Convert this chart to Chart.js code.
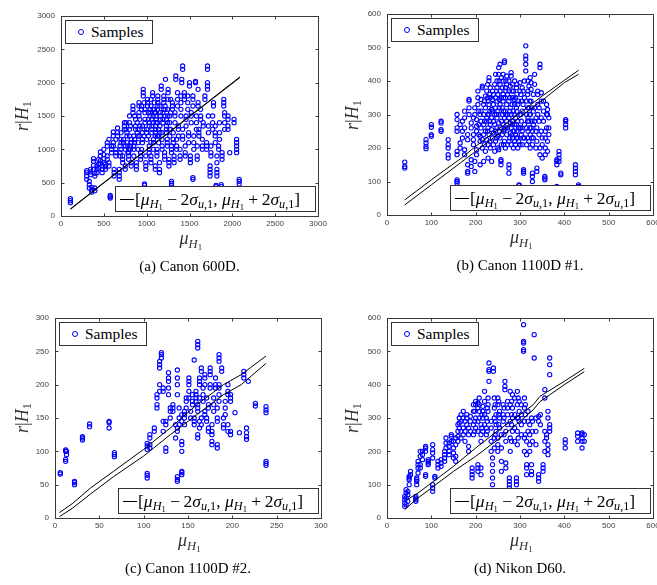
<!DOCTYPE html>
<html><head><meta charset="utf-8">
<script src="https://cdn.jsdelivr.net/npm/chart.js@4.4.1/dist/chart.umd.min.js"></script>
<style>
html,body{margin:0;padding:0;background:#fff;}
body{width:657px;height:585px;overflow:hidden;position:relative;}
canvas.pc{position:absolute;}
.lg{position:absolute;background:#fff;border:1px solid #333;box-sizing:border-box;font-family:"Liberation Serif","Times New Roman",serif;font-size:15.5px;color:#000;white-space:nowrap;display:flex;align-items:center;}
.lg2{font-size:17.5px;}
.mk{display:inline-block;width:4px;height:4px;border:1px solid #0000ff;border-radius:50%;margin:0 7px 0 12px;}
.ls{display:inline-block;width:14px;border-top:1px solid #000;margin:0 1px 0 4px;}
sub{font-size:70%;vertical-align:-0.28em;line-height:0;}
.ax{position:absolute;font-family:"Liberation Serif","Times New Roman",serif;font-size:18px;color:#333;white-space:nowrap;}
.cap{position:absolute;font-family:"Liberation Serif","Times New Roman",serif;font-size:15px;color:#000;white-space:nowrap;transform:translateX(-50%);}
</style>
</head><body>
<canvas id="ca" class="pc" width="340" height="260" style="left:0;top:0"></canvas>
<canvas id="cb" class="pc" width="340" height="260" style="left:330px;top:0"></canvas>
<canvas id="cc" class="pc" width="340" height="260" style="left:0;top:280px"></canvas>
<canvas id="cd" class="pc" width="340" height="260" style="left:330px;top:280px"></canvas>
<script>
// ---------- DATA (columns: [x, y1, y2, ...]) ----------
const captions = ["(a) Canon 600D.", "(b) Canon 1100D #1.", "(c) Canon 1100D #2.", "(d) Nikon D60."];
const axisA = [0, 3000, 500];
const axisB = [0, 600, 100];
const axisC = [0, 300, 50];
const axisD = [0, 600, 100];

const samplesA = [
[110,200,230,260],[300,550,600,650,680],[330,420,470,520],[345,620,660,700],[360,360,390,430],
[380,700,760,820,860],[395,380,420,600,640],[420,650,700,750],[440,720,780,850],[460,780,830,900,960],
[480,650,700,750],[500,800,860,920,1000],[520,700,740,780],[540,850,900,1050,1100],[560,750,800,1150],
[575,270,290,310],[590,950,1000,1050],[610,1050,1100,1200,1260],[620,600,650,700],[640,900,950,1000,1150],
[660,1200,1250,1320],[680,550,600,650,700],[700,1000,1100,1150,1250],[720,800,850,900],[740,1300,1350,1400],
[750,700,750,1000,1050],[770,1100,1200,1250],[790,850,900,950,1000],[800,1200,1300,1400,1500],[820,750,800,1100,1150],
[840,1550,1600,1650],[850,900,1000,1050,1200],[870,1300,1350,1450],[880,700,750,800],[900,1000,1100,1200,1300],
[910,1500,1550,1650,1700],[930,850,900,950],[950,1100,1150,1250,1350],[960,1800,1850,1900],[975,460,480],
[980,1400,1450,1550,1600],[990,700,750,800,900],[1000,1150,1250,1300],[1010,1650,1700,1750],[1030,950,1000,1050,1350,1400],
[1040,1500,1550,1600],[1050,800,850,900],[1060,1250,1300,1350,1450],[1070,1800,1850],[1080,1000,1100,1150],
[1090,1550,1600,1700],[1100,700,750,1200,1250],[1110,1400,1450,1500],[1120,900,950,1000],[1130,1650,1700,1750,1800],
[1140,1100,1200,1300],[1150,650,700,800],[1160,1450,1500,1550],[1170,1900,1950],[1180,1000,1050,1150,1250],
[1200,1600,1700,1750,1800],[1210,850,900,950],[1220,2050],[1230,1250,1300,1350,1450],[1240,1050,1100,1150],
[1250,1750,1850,1900],[1260,750,800,850],[1270,1200,1300,1400,1500],[1290,460,490,520],[1290,950,1000,1050],
[1300,1600,1650,1700],[1310,1100,1150,1250],[1320,800,850,900],[1330,1400,1500,1550],[1340,2050,2100],
[1350,1000,1050,1150],[1360,1650,1750,1850],[1370,1200,1300,1350],[1390,850,900,1000],[1400,1500,1600,1700,1800],
[1410,2000,2050],[1420,2200,2250],[1420,1150,1200,1300],[1440,1750,1800,1850],[1450,900,950,1050],
[1460,1350,1450,1500],[1480,1600,1700,1800],[1490,1100,1200,1250],[1500,1950,2000],[1510,800,850,900],
[1520,1400,1500,1550],[1540,550,575],[1540,1650,1750,1800],[1550,1000,1100,1200],[1570,2000,2020],
[1580,1300,1400,1500],[1590,850,900,1050],[1600,1650,1700,1900],[1610,1200,1250,1300],[1630,1450,1500,1600],
[1650,1000,1050,1150],[1660,1350,1400],[1680,1750,1800],[1700,1000,1050,1100],[1710,1900,1950,2000,2200,2250],
[1720,1250,1350,1500],[1740,600,650,700,750],[1750,900,950,1050],[1770,1300,1400,1500],[1780,1650,1700],
[1800,1100,1200,1250,1350],[1810,440,460],[1820,600,650,700,800,900],[1840,1000,1050],[1850,1150,1250,1400],
[1870,440,470],[1880,850,900,950],[1900,1650,1700,1750],[1910,1300,1400,1500,1550],[1950,1300,1350,1450,1500],
[1970,950],[2020,1400,1450],[2050,950,1000,1050,1100,1150],[2080,480,520,550],
[810,1000,1050,1350],[860,1100,1150,1500],[890,1250,1400],[920,1200,1350,1450],[940,1000,1600,1650],
[970,1200,1300,1700],[1020,1200,1450,1550],[1050,1100,1650,1750],[1075,1400,1500,1600],[1105,1300,1350,1550],
[1125,1200,1400,1600],[1155,1250,1350,1650],[1190,1400,1450,1550],[1215,1500,1600,1650],[1245,1400,1500,1600],
[1280,1300,1550,1750],[690,900,950,1050],[730,1100,1150],[760,1300,1400],[780,950,1050]
];
const upperA = [[110,108],[500,502],[1000,998],[1500,1497],[2090,2088]];
const lowerA = [[110,100],[500,495],[1000,990],[1500,1490],[2090,2078]];

const samplesB = [
[40,140,145,158],[88,198,205,215,225],[100,235,240,262,270],[122,250,255,275,280],[138,170,180,200,210,225],
[158,95,100,105],[158,180,190,250,260,285,300],[165,200,215,270],[170,230,250,280],[175,180,195,260,290,310],
[182,125,130,150,225,240],[185,300,320,340,345],[190,145,165,260,275],[195,210,225,240,290],[198,130,160,300,320],
[202,180,195,250,265,285],[205,330,350,370],[210,150,220,235,300],[212,260,280,310,345],[215,200,225,380,385],
[218,160,240,270,300,330],[222,190,250,320,355],[225,225,280,290,370],[228,170,210,260,340],[230,240,300,330,400,410],
[233,200,270,350,380],[236,160,255,290,315],[238,230,310,345,370],[240,210,245,280,330,360],[243,190,270,300,390],
[245,220,250,320,350,420],[248,260,290,340,380,400],[250,200,235,310,360],[252,195,275,300,420,440],[255,230,260,330,370,390,450],
[257,150,160,165],[258,210,280,350,410],[260,240,300,320,380],[262,270,340,360,400,420],[265,220,255,290,455,460],
[267,200,310,350,380],[270,240,280,330,390,415],[272,210,260,300,360],[275,125,140,150],[275,220,290,340,370,400],
[278,245,275,320,385],[280,210,260,300,415,425],[283,230,280,350,390],[285,200,250,310,370],[288,220,270,330,400],
[290,210,240,290,350],[293,250,310,360,390],[295,200,230,280,330],[298,88,90],[300,210,260,300,370,395],
[303,240,280,340],[305,210,250,310,380],[308,125,130,135],[310,230,270,350,400],[313,430,450,465,475,505],
[315,210,260,300,340],[318,250,290,370,400],[320,220,280,320,385],[323,200,240,300,410],[325,260,340,375,395],
[328,100,115,125,210,250],[330,230,270,310,360],[333,280,320,390,420],[336,200,250,290],[338,130,140,220,260],
[340,300,330,360,370],[343,240,280,320],[345,180,200,440,450],[348,250,290,340,365],[350,170,210,230],
[353,280,310,340],[356,105,110,115],[357,180,200,230,250],[360,260,300,330],[362,190,220,300,315],
[365,240,260,290],[383,85,150,160,165],[388,160,170,180,190],[392,120,125],[403,260,270,280,285],
[425,120,130,140,150],[432,85,90],
[207,240,270,310],[220,210,280,340],[227,250,300,350,390],[232,220,280,310,360],[247,230,300,370],
[253,250,320,345,400],[263,210,250,310,350],[268,260,300,370,400],[277,230,310,350],[282,240,270,330,370],
[287,250,300,345],[292,230,270,320,380],[297,220,260,340],[302,260,300,360],[307,230,330,370],
[317,230,280,320,360],[322,260,300,340],[327,230,280,320]
];
const upperB = [[40,45],[100,105],[170,172],[200,205],[250,255],[300,305],[350,355],[400,402],[432,432]];
const lowerB = [[40,30],[100,90],[165,155],[200,190],[250,240],[300,292],[350,342],[400,395],[432,420]];

const samplesC = [
[6,66,68],[12,85,88,100,102],[13,95,100],[22,50,53,55],[31,117,120,122],[39,137,141],[61,135,143,145],
[67,92,95,98],[104,60,64,67,103,108,112],[107,105,110,120,125],[112,130,135],[115,165,170,180,185],
[118,190,200,225,230,235],[120,240,245,248],[122,130,145,190,195],[125,100,105,140,145],[128,185,195,205,210,218],
[130,150,160,165],[133,160,165,170],[136,120,140],[138,55,58,62,130,135,185,200,210,222],[140,140,150,165],
[143,65,68,70,100,110,115,145,155],[146,140,150,155,160],[148,165,175,180],[151,180,190,200,205,210],[153,150,160],
[155,170,175,185],[157,140,145,150,237],[159,175,180,185,190],[161,120,125,160,165,170,255,260,265],
[163,135,145,180,200,205,210],[165,140,150,220,225],[167,175,185,195],[169,155,160,200,210,215],[171,145,150,180],
[173,130,135,165,170],[175,195,200,215,220,225],[177,110,115,125,130,140],[179,160,170,180],[181,195,200,210],
[183,105,110,145,150,165],[185,175,185,195,200,235,240,245],[188,220,225],[190,135,140,150],[192,155,165,175],
[195,130,140,185,190,200],[198,125,130,175,180,185],[203,158],[208,128],[213,210,215,220],[216,118,122,128,135],
[218,205],[226,168,172],[238,79,82,85,158,162,167]
];
const upperC = [[5,8],[20,22],[40,45],[66,70],[100,103],[130,135],[160,170],[190,200],[210,215],[238,243]];
const lowerC = [[5,2],[20,15],[40,36],[66,62],[100,93],[130,125],[160,155],[190,185],[210,200],[238,232]];

const samplesD = [
[40,35,45,55,65],[43,40,60,75,85],[47,50,70,80],[50,100,115,120,125],[53,130,140],[65,50,55,60,65],
[67,100,110,115,120],[70,135,150,160,170],[75,150,160,185,200],[80,175,190,200],[87,125,130,200,210,215],
[93,160,165,170,175],[103,80,90,100,180,195,205,220],[108,120,125],[115,150,160,170],[122,155,165,175],
[130,170,180,190,200],[133,210,225,240],[140,190,200,215,225],[145,230,245,250],[150,180,195,210,230],
[155,170,185,220,240],[160,230,245,260,280],[163,270,285,300],[167,240,260,290,310],[172,250,270,300,320],
[176,230,260,290],[180,280,300,310],[184,200,215,250,270],[188,260,290,305],[192,120,130,140,150],
[195,250,280,320,340],[200,270,300,340,350],[205,140,150,160,260,290],[208,300,320,340,360],[212,130,150,230,250,280],
[216,260,300,320,335],[220,280,310,350,380],[224,250,270,300],[228,320,340,360],[230,410,440,445,465],
[235,200,230,270,290],[238,100,120,140,160,180],[240,440,450],[242,210,240,300,330,360],[246,260,280,310],
[250,200,220,240,340,360],[254,270,300,320],[258,140,170,210,250],[262,290,310,340],[266,385,395,410],
[268,150,165,230,260],[272,280,310,330,350],[276,80,90,100,110,120],[278,200,240,290,340,380],[283,260,300,330,370],
[288,230,270,310,360],[292,100,110,120],[294,220,260,300,340,380],[298,290,320,350],[303,250,280,310,340],
[308,500,505,525,530,580],[310,200,240,290,330,360],[315,130,150,160,190,230],[318,260,290,320],[322,200,220,250,280],
[326,130,140,160,300],[332,480,550],[336,220,260,300],[342,110,120,130,290,305],[346,280,310],[352,140,150,160],
[356,200,230,260,360,385],[360,240,250],[363,190,205,220,300,320],[367,260,270,280,430,460,480],[402,210,225,235],
[430,230,245,255],[440,210,230,240,250,255],[445,230,250],
[198,260,290,320],[214,270,310],[226,260,290,330],[244,250,290,340],[252,280,310,350],[264,250,300,330],
[281,230,280,310,350],[296,240,300,360],[312,250,310,340],[328,230,260,290],[205,330,345]
];
const upperD = [[45,55],[70,75],[100,105],[150,155],[200,210],[250,262],[300,310],[330,340],[345,365],[400,410],[445,449]];
const lowerD = [[40,25],[65,55],[100,90],[150,140],[200,185],[250,235],[300,290],[330,325],[345,349],[400,400],[445,439]];

// ---------- DRAWING ----------
const boxPlugin = {
  id: 'mbox',
  afterDraw(chart) {
    const {ctx, chartArea: a, scales: {x, y}} = chart;
    ctx.save();
    ctx.strokeStyle = '#3a3a3a';
    ctx.lineWidth = 1;
    const L = Math.round(a.left) + 0.5, T = Math.round(a.top) + 0.5;
    const R = Math.round(a.right) + 0.5, B = Math.round(a.bottom) + 0.5;
    ctx.strokeRect(L, T, R - L, B - T);
    ctx.beginPath();
    x.ticks.forEach(t => {
      const p = Math.round(x.getPixelForValue(t.value)) + 0.5;
      ctx.moveTo(p, B); ctx.lineTo(p, B - 3);
      ctx.moveTo(p, T); ctx.lineTo(p, T + 3);
    });
    y.ticks.forEach(t => {
      const p = Math.round(y.getPixelForValue(t.value)) + 0.5;
      ctx.moveTo(L, p); ctx.lineTo(L + 3, p);
      ctx.moveTo(R, p); ctx.lineTo(R - 3, p);
    });
    ctx.stroke();
    ctx.restore();
  }
};

const toPts = cols => cols.flatMap(([x, ...ys]) => ys.map(y => ({x, y})));
const toXY = arr => arr.map(([x, y]) => ({x, y}));

const mu = '<i>μ</i><sub><i>H</i><sub>1</sub></sub>';
const sig = '<i>σ</i><sub><i>u</i>,1</sub>';

const panels = [
  {id: 'ca', ox: 0, oy: 0, s: samplesA, up: upperA, lo: lowerA, ax: axisA, yw: 61, pad: {left: 0, right: 22, top: 16, bottom: 24}, cap: captions[0]},
  {id: 'cb', ox: 330, oy: 0, s: samplesB, up: upperB, lo: lowerB, ax: axisB, yw: 57, pad: {left: 0, right: 17, top: 14, bottom: 25}, cap: captions[1]},
  {id: 'cc', ox: 0, oy: 280, s: samplesC, up: upperC, lo: lowerC, ax: axisC, yw: 55, pad: {left: 0, right: 19, top: 38, bottom: 2}, cap: captions[2]},
  {id: 'cd', ox: 330, oy: 280, s: samplesD, up: upperD, lo: lowerD, ax: axisD, yw: 57, pad: {left: 0, right: 17, top: 38, bottom: 2}, cap: captions[3]}
];

function addEl(cls, html, css) {
  const d = document.createElement('div');
  d.className = cls; d.innerHTML = html;
  Object.assign(d.style, css);
  document.body.appendChild(d);
  return d;
}

panels.forEach(p => {
  const tickFont = {family: '"Liberation Sans", Arial, sans-serif', size: 8};
  const chart = new Chart(document.getElementById(p.id), {
    type: 'scatter',
    data: {
      datasets: [
        {data: toXY(p.up), showLine: true, borderColor: '#000', borderWidth: 1, pointRadius: 0, fill: false, tension: 0},
        {data: toXY(p.lo), showLine: true, borderColor: '#000', borderWidth: 1, pointRadius: 0, fill: false, tension: 0},
        {data: toPts(p.s), showLine: false, pointStyle: 'circle', pointRadius: 2.1, borderWidth: 1.1,
         borderColor: '#0000ff', backgroundColor: 'rgba(0,0,0,0)'}
      ]
    },
    options: {
      responsive: false, animation: false, events: [],
      layout: {padding: p.pad},
      plugins: {legend: {display: false}, tooltip: {enabled: false}},
      scales: {
        x: {type: 'linear', min: p.ax[0], max: p.ax[1],
            ticks: {stepSize: p.ax[2], font: tickFont, color: '#444', padding: 3, maxRotation: 0, autoSkip: false,
                    callback: v => String(v)},
            grid: {display: false, drawTicks: false}, border: {display: false},
            afterFit(s) { s.height = 20; }},
        y: {type: 'linear', min: p.ax[0], max: p.ax[1],
            ticks: {stepSize: p.ax[2], font: tickFont, color: '#444', padding: 6, autoSkip: false,
                    callback: v => String(v)},
            grid: {display: false, drawTicks: false}, border: {display: false},
            afterFit(s) { s.width = p.yw; }}
      }
    },
    plugins: [boxPlugin]
  });
  const a = chart.chartArea;
  const L = p.ox + a.left, R = p.ox + a.right, T = p.oy + a.top, B = p.oy + a.bottom;
  const cx = (L + R) / 2;
  addEl('lg', '<span class="mk"></span><span>Samples</span>', {left: (L + 4) + 'px', top: (T + 4) + 'px', width: '88px', height: '24px'});
  addEl('lg lg2', '<span class="ls"></span><span>[' + mu + '&#8197;−&#8201;2' + sig + ', ' + mu + '&#8197;+&#8201;2' + sig + ']</span>',
        {left: (R - 203) + 'px', top: (B - 30) + 'px', width: '201px', height: '26px'});
  addEl('ax', mu, {left: (cx - 10) + 'px', top: (B + 12) + 'px'});
  addEl('ax', '<i>r</i>|<i>H</i><sub>1</sub>', {left: (p.ox + 22) + 'px', top: ((T + B) / 2) + 'px', transform: 'translate(-50%,-50%) rotate(-90deg)'});
  addEl('cap', p.cap, {left: cx + 'px', top: (B + 42) + 'px'});
});
</script>
</body></html>
